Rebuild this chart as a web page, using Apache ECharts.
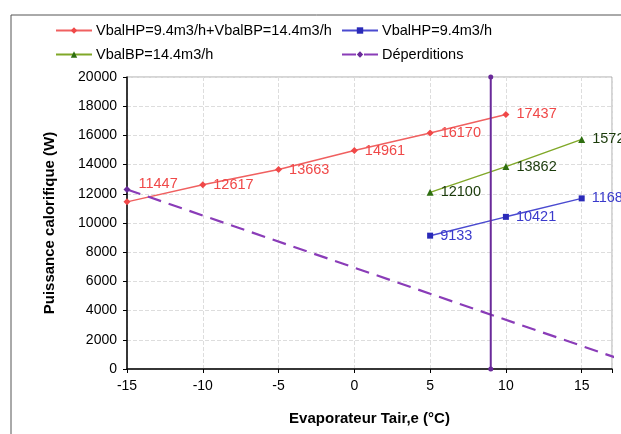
<!DOCTYPE html>
<html><head><meta charset="utf-8">
<script src="https://cdn.jsdelivr.net/npm/echarts@6/dist/echarts.min.js"></script>
<style>html,body{margin:0;padding:0;background:#fff}#c{width:621px;height:434px}</style>
</head><body><div id="c"></div>
<script>
const xCombined = [-15, -10, -5, 0, 5, 10];
const valCombined = [11447, 12617, 13663, 14961, 16170, 17437];
const xHP = [5, 10, 15];
const valHP = [9133, 10421, 11687];
const xBP = [5, 10, 15];
const valBP = [12100, 13862, 15725];
const xLoss = [-15, 17.3];
const valLoss = [12300, 760];
const xLimit = [9, 9];
const valLimit = [0, 20000];
const names = ['VbalHP=9.4m3/h+VbalBP=14.4m3/h', 'VbalHP=9.4m3/h', 'VbalBP=14.4m3/h', 'Déperditions'];

const pair = (xs, ys) => xs.map((x, i) => [x, ys[i]]);
const chart = echarts.init(document.getElementById('c'));
const F = 'Liberation Sans, Arial, sans-serif';
const lbl = (color) => ({show: true, position: 'right', distance: 7, color: color, fontFamily: F, fontSize: 14.5, formatter: p => p.value[1]});
const leg = (name, left, top) => ({data: [name], left: left, top: top, itemWidth: 36, itemHeight: 8, itemGap: 4,
  textStyle: {fontFamily: F, fontSize: 14.5, color: '#000', padding: [0, 0, 0, -1]}});

chart.setOption({
  animation: false,
  backgroundColor: '#fff',
  graphic: [{type: 'rect', shape: {x: 11, y: 15, width: 640, height: 440}, style: {fill: 'none', stroke: '#555', lineWidth: 1}, z: -1}],
  grid: {left: 127, right: 9, top: 77, bottom: 65, show: true, borderColor: '#aaa', borderWidth: 1},
  legend: [leg(names[0], 50, 18), leg(names[1], 336, 18), leg(names[2], 50, 42), leg(names[3], 336, 42)],
  xAxis: {
    type: 'value', min: -15, max: 17, interval: 5,
    name: 'Evaporateur Tair,e (°C)', nameLocation: 'middle', nameGap: 42,
    nameTextStyle: {fontFamily: F, fontSize: 15, fontWeight: 'bold', color: '#000'},
    axisLine: {show: true, onZero: false, lineStyle: {color: '#000', width: 1.5}},
    axisTick: {show: true, inside: false, length: 4, lineStyle: {color: '#000'}},
    axisLabel: {fontFamily: F, fontSize: 14, color: '#000', margin: 10,
      formatter: v => (Math.abs(v % 5) < 1e-9 ? String(v) : '')},
    splitLine: {show: true, lineStyle: {color: '#ddd', type: 'dashed'}}
  },
  yAxis: {
    type: 'value', min: 0, max: 20000, interval: 2000,
    name: 'Puissance calorifique (W)', nameLocation: 'middle', nameGap: 70,
    nameTextStyle: {fontFamily: F, fontSize: 15, fontWeight: 'bold', color: '#000'},
    axisLine: {show: true, onZero: false, lineStyle: {color: '#000', width: 1.5}},
    axisTick: {show: true, inside: false, length: 4, lineStyle: {color: '#000'}},
    axisLabel: {fontFamily: F, fontSize: 14, color: '#000', margin: 10, formatter: v => String(v)},
    splitLine: {show: true, lineStyle: {color: '#ddd', type: 'dashed'}}
  },
  series: [
    {name: names[0], type: 'line', data: pair(xCombined, valCombined).map((d, i) => i === 0 ? {value: d, label: {offset: [1, -18]}} : d),
     symbol: 'diamond', symbolSize: 7,
     itemStyle: {color: '#f04848'}, lineStyle: {color: '#f06060', width: 1.5}, label: lbl('#f04848')},
    {name: names[1], type: 'line', data: pair(xHP, valHP), symbol: 'rect', symbolSize: 6,
     itemStyle: {color: '#2a2ab8'}, lineStyle: {color: '#4a4ad0', width: 1.5}, label: lbl('#3a3acc')},
    {name: names[2], type: 'line', data: pair(xBP, valBP), symbol: 'triangle', symbolSize: 7,
     itemStyle: {color: '#2e6e10'}, lineStyle: {color: '#80a828', width: 1.5}, label: lbl('#1a3a0a')},
    {name: names[3], type: 'line', data: pair(xLoss, valLoss).map((d, i) => ({value: d, symbol: i === 0 ? 'diamond' : 'none'})),
     symbol: 'diamond', symbolSize: 7, clip: false,
     itemStyle: {color: '#6a2a9a'}, lineStyle: {color: '#8a3cb8', width: 2.2, type: [14, 8]}},
    {name: 'limite', type: 'line', data: pair(xLimit, valLimit), symbol: 'circle', symbolSize: 5,
     itemStyle: {color: '#6a2a9a'}, lineStyle: {color: '#6a2a9a', width: 2}}
  ]
});
</script></body></html>
